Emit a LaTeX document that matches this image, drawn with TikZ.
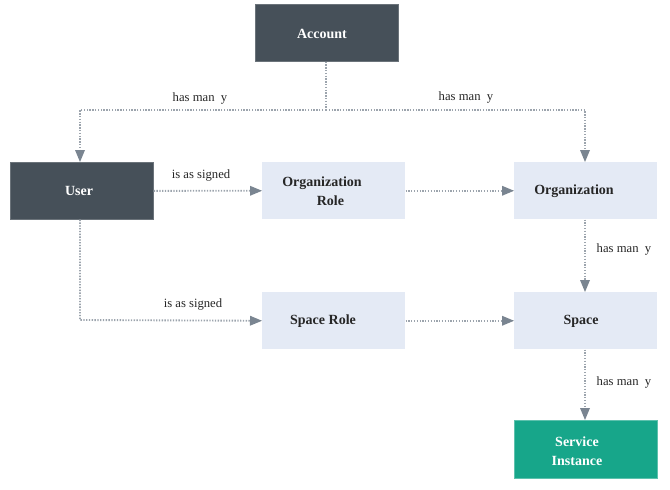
\documentclass[tikz,border=0pt]{standalone}
\usepackage{fontspec}
\setmainfont{Liberation Serif}
\newfontfamily\tnr{Liberation Serif}
\usetikzlibrary{arrows.meta}
\definecolor{darkbox}{HTML}{465059}
\definecolor{lightbox}{HTML}{E4EAF5}
\definecolor{tealbox}{HTML}{17A68A}
\definecolor{conn}{HTML}{9CA4AD}
\definecolor{arrowc}{HTML}{7A8591}
\tikzset{
  box/.style={minimum width=107.25pt, minimum height=42.75pt, inner sep=0pt, anchor=north west},
  darkb/.style={box, fill=darkbox, draw=darkbox!80!white, line width=0.5pt},
  lightb/.style={box, fill=lightbox},
  tealb/.style={box, fill=tealbox, draw=tealbox!70!white, line width=0.5pt},
  wtxt/.style={text=white, font=\tnr\bfseries\fontsize{10.5}{14}\selectfont, align=center},
  btxt/.style={text=black!85, font=\tnr\bfseries\fontsize{10.5}{14}\selectfont, align=center},
  conline/.style={draw=conn, line width=1.4pt, dash pattern=on 1pt off 1.1pt},
  arr/.style={conline, -{Triangle[length=9pt,width=7.5pt,fill=arrowc,line width=0pt]}},
  lbl/.style={font=\tnr\fontsize{9.5}{11}\selectfont, text=black!85, inner sep=0pt}
}
\begin{document}
\begin{tikzpicture}[x=0.75pt,y=-0.75pt]
\useasboundingbox (0,0) rectangle (670,489);
% boxes
\node[darkb] (acc) at (255,4) {};
\node[darkb] (user) at (10,162) {};
\node[lightb] (orole) at (262,162) {};
\node[lightb] (org) at (514,162) {};
\node[lightb] (srole) at (262,292) {};
\node[lightb] (space) at (514,292) {};
\node[tealb, minimum height=43.5pt] (svc) at (514,420) {};
% texts
\node[wtxt] (tacc) at (322,34) {Account};
\node[wtxt] (tuser) at (79,191) {User};
\node[btxt] (torole) at (322,191) {Organization\\\hspace*{1.2em}Role};
\node[btxt] (torg) at (574,191) {Organization};
\node[btxt] (tsrole) at (323,321) {Space Role};
\node[btxt] (tspace) at (581,321) {Space};
\node[wtxt] (tsvc) at (577,451) {Service\\Instance};
% connector corners
\coordinate (jA) at (326,110);
\coordinate (jL) at (80,110);
\coordinate (jR) at (585,110);
\coordinate (jU) at (80,320);
% connectors
\draw[conline] (acc.south -| jA) -- (jA);
\draw[arr] (jA) -- (jL) -- (user.north -| jL);
\draw[arr] (jA) -- (jR) -- (org.north -| jR);
\draw[arr] (user.east) -- (orole.west);
\draw[arr] (orole.east) -- (org.west);
\draw[arr] (user.south -| jU) -- (jU) -- (srole.west);
\draw[arr] (srole.east) -- (space.west);
\draw[arr] (org.south -| jR) -- (space.north -| jR);
\draw[arr] (space.south -| jR) -- (svc.north -| jR);
% labels
\node[lbl] (l1) at (200,98) {has man~~y};
\node[lbl] (l2) at (466,97) {has man~~y};
\node[lbl] (l3) at (201,175) {is as signed};
\node[lbl] (l4) at (193,304) {is as signed};
\node[lbl] (l5) at (624,249) {has man~~y};
\node[lbl] (l6) at (624,382) {has man~~y};
\end{tikzpicture}
\end{document}
